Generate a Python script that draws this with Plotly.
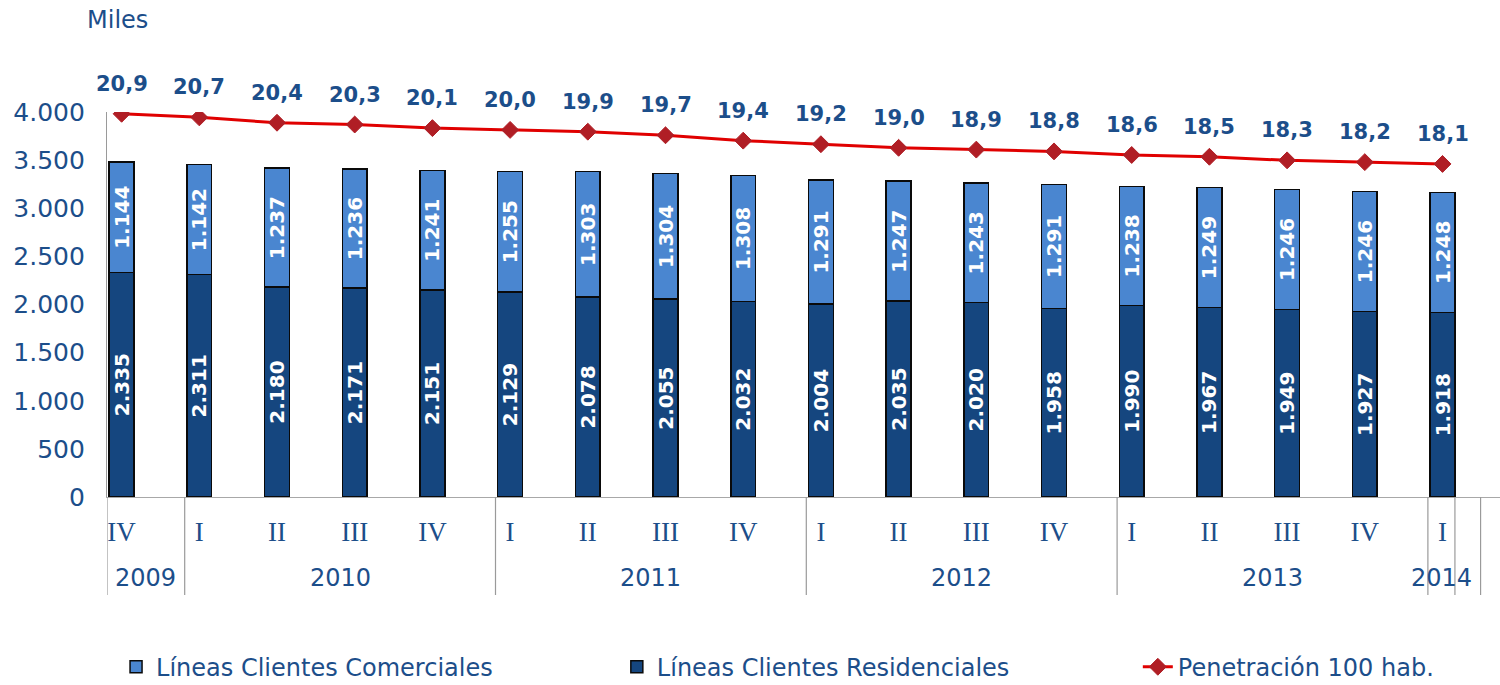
import plotly.graph_objects as go

# ---------------- data ----------------
quarters = ["IV", "I", "II", "III", "IV", "I", "II", "III", "IV",
            "I", "II", "III", "IV", "I", "II", "III", "IV", "I"]
years = ["2009", "2010", "2011", "2012", "2013", "2014"]
year_counts = [1, 4, 4, 4, 4, 1]
comerciales = [1144, 1142, 1237, 1236, 1241, 1255, 1303, 1304, 1308,
               1291, 1247, 1243, 1291, 1238, 1249, 1246, 1246, 1248]
residenciales = [2335, 2311, 2180, 2171, 2151, 2129, 2078, 2055, 2032,
                 2004, 2035, 2020, 1958, 1990, 1967, 1949, 1927, 1918]
penetracion = [20.9, 20.7, 20.4, 20.3, 20.1, 20.0, 19.9, 19.7, 19.4,
               19.2, 19.0, 18.9, 18.8, 18.6, 18.5, 18.3, 18.2, 18.1]
y_ticks = [0, 500, 1000, 1500, 2000, 2500, 3000, 3500, 4000]

# ---------------- style ----------------
TXT = "#1c4e8a"
DARK = "#15467f"
LIGHT = "#4a86d0"
RED = "#e00000"
MRK = "#b01e25"
SANS = "DejaVu Sans"
BAR_W = 0.32
OFF = 0.188          # category boundary offset left of bar centre
X_MAX = 17.74

def thousands(v):
    return f"{v:,}".replace(",", ".")

n = len(quarters)
xs = list(range(n))

fig = go.Figure()

fig.add_trace(go.Bar(
    x=xs, y=residenciales, width=BAR_W, name="Líneas Clientes Residenciales",
    marker=dict(color=DARK, line=dict(color="#0a0a0a", width=1.5)),
    text=[thousands(v) for v in residenciales], textangle=-90,
    textposition="inside", insidetextanchor="middle", constraintext="none",
    textfont=dict(family=SANS, size=20, color="white", weight="bold"),
    legend="legend2",
))
fig.add_trace(go.Bar(
    x=xs, y=comerciales, width=BAR_W, name="Líneas Clientes Comerciales",
    marker=dict(color=LIGHT, line=dict(color="#0a0a0a", width=1.5)),
    text=[thousands(v) for v in comerciales], textangle=-90,
    textposition="inside", insidetextanchor="middle", constraintext="none",
    textfont=dict(family=SANS, size=20, color="white", weight="bold"),
    legend="legend",
))
fig.add_trace(go.Scatter(
    x=xs, y=penetracion, yaxis="y2", mode="lines+markers",
    name="Penetración 100 hab.",
    line=dict(color=RED, width=3),
    marker=dict(symbol="diamond", size=13, color=MRK, line=dict(color=MRK, width=1)),
    legend="legend3",
))

# value labels above the line
for i, v in enumerate(penetracion):
    fig.add_annotation(
        x=i, y=v, xref="x", yref="y2", yshift=30, showarrow=False,
        text=f"{v:.1f}".replace(".", ","),
        font=dict(family=SANS, size=21, color=TXT, weight="bold"),
    )

# year labels and separators
shapes = []
start = -OFF
bounds = [start]
last_edge = n - 1 + BAR_W / 2
for yr, c in zip(years, year_counts):
    end = start + c
    vis_end = min(end, last_edge)
    fig.add_annotation(
        x=(start + vis_end) / 2, y=-0.21, xref="x", yref="paper",
        text=yr, showarrow=False, yanchor="middle",
        font=dict(family=SANS, size=24, color=TXT),
    )
    bounds.append(vis_end)
    start = end
bounds.append(bounds[-1] + 0.33)
for b in bounds:
    shapes.append(dict(type="line", xref="x", yref="paper", x0=b, x1=b,
                       y0=0, y1=-0.2545, line=dict(color="#9a9a9a", width=1.2)))

fig.add_annotation(
    x=-0.0158, y=1.239, xref="paper", yref="paper", xanchor="left",
    yanchor="middle", text="Miles", showarrow=False,
    font=dict(family=SANS, size=24, color=TXT),
)

leg_common = dict(orientation="h", yanchor="middle", xanchor="left",
                  font=dict(family=SANS, size=24, color=TXT),
                  bgcolor="rgba(0,0,0,0)", itemclick=False)

fig.update_layout(
    width=1500, height=685,
    margin=dict(l=107, r=0, t=112, b=188, autoexpand=False),
    paper_bgcolor="white", plot_bgcolor="white",
    barmode="stack",
    showlegend=True,
    legend=dict(x=0.0065, y=-0.442, **leg_common),
    legend2=dict(x=0.366, y=-0.442, **leg_common),
    legend3=dict(x=0.740, y=-0.442, **leg_common),
    xaxis=dict(range=[-OFF, X_MAX], tickvals=xs, ticktext=quarters,
               showgrid=False, zeroline=False, showline=True,
               linecolor="#a8a8a8", linewidth=1.2, ticks="",
               ticklabelstandoff=10,
               tickfont=dict(family="Liberation Serif", size=27, color=TXT)),
    yaxis=dict(range=[0, 4000], tickvals=y_ticks,
               ticktext=[thousands(v) for v in y_ticks],
               showgrid=False, zeroline=False, showline=True,
               linecolor="#9a9a9a", linewidth=1.2, ticks="",
               ticklabelstandoff=16,
               tickfont=dict(family=SANS, size=25, color=TXT)),
    yaxis2=dict(range=[-0.5, 21.0], overlaying="y", visible=False),
    shapes=shapes,
)

fig.write_html("out.html", config={"displayModeBar": False},
               post_script="document.body.style.margin='0';document.body.style.overflow='hidden';")
